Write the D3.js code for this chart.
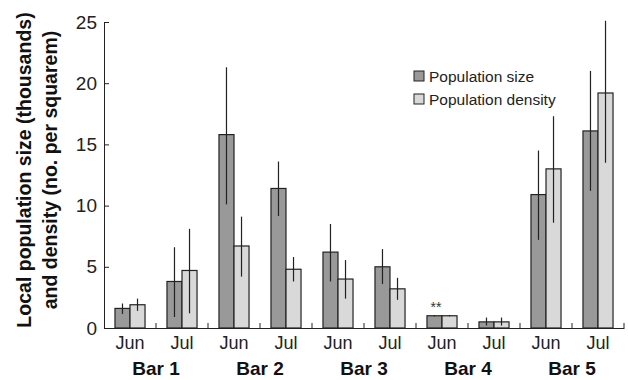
<!DOCTYPE html>
<html>
<head>
<meta charset="utf-8">
<script src="https://cdn.jsdelivr.net/npm/d3@7"></script>
<style>
  body { margin: 0; background: #fff; }
  svg { font-family: "Liberation Sans", Arial, Helvetica, sans-serif; }
</style>
</head>
<body>
<div id="chart"></div>
<script>
// groups and months along the x axis
const groups = ['Bar 1', 'Bar 2', 'Bar 3', 'Bar 4', 'Bar 5'];
const months = ['Jun', 'Jul'];

// one entry per group x month, in order
const sizeMean = [1.6, 3.8, 15.8, 11.4, 6.2, 5.0, 1.0, 0.5, 10.9, 16.1];
const sizeLow  = [1.15, 0.9, 10.1, 9.15, 3.8, 3.6, 0.95, 0.2, 7.2, 11.2];
const sizeHigh = [2.0, 6.6, 21.3, 13.6, 8.5, 6.45, 1.05, 0.85, 14.5, 21.0];

const densMean = [1.9, 4.7, 6.7, 4.8, 4.0, 3.2, 1.0, 0.5, 13.0, 19.2];
const densLow  = [1.4, 1.2, 4.2, 3.8, 2.4, 2.3, 0.95, 0.2, 8.6, 13.5];
const densHigh = [2.4, 8.1, 9.1, 5.8, 5.55, 4.1, 1.05, 0.85, 17.3, 25.1];

const yTicks = [0, 5, 10, 15, 20, 25];
const seriesNames = ['Population size', 'Population density'];
const annotations = [{ index: 6, text: '**' }];

const width = 628, height = 380;
const margin = { top: 22, right: 4, bottom: 52, left: 104 };
const colors = { 'Population size': '#999999', 'Population density': '#d9d9d9' };

const svg = d3.select('#chart').append('svg')
  .attr('width', width)
  .attr('height', height);

const slots = [];
groups.forEach(g => months.forEach(m => slots.push(g + '|' + m)));

const x0 = d3.scaleBand()
  .domain(slots)
  .range([margin.left, width - margin.right]);

const x1 = d3.scaleBand()
  .domain(seriesNames)
  .range([0, x0.bandwidth()])
  .paddingOuter(0.73)
  .paddingInner(0);

const y = d3.scaleLinear()
  .domain([0, 25])
  .range([height - margin.bottom, margin.top]);

const rows = slots.map((s, i) => ({
  slot: s,
  values: [
    { name: seriesNames[0], mean: sizeMean[i], lo: sizeLow[i], hi: sizeHigh[i] },
    { name: seriesNames[1], mean: densMean[i], lo: densLow[i], hi: densHigh[i] }
  ]
}));

// bars
const g = svg.append('g');
const slotG = g.selectAll('.slot')
  .data(rows)
  .enter().append('g')
  .attr('transform', d => `translate(${x0(d.slot)},0)`);

slotG.selectAll('rect')
  .data(d => d.values)
  .enter().append('rect')
  .attr('x', d => x1(d.name))
  .attr('y', d => y(d.mean))
  .attr('width', x1.bandwidth())
  .attr('height', d => y(0) - y(d.mean))
  .attr('fill', d => colors[d.name])
  .attr('stroke', '#222')
  .attr('stroke-width', 1.2);

// error bars
slotG.selectAll('line.err')
  .data(d => d.values)
  .enter().append('line')
  .attr('class', 'err')
  .attr('x1', d => x1(d.name) + x1.bandwidth() / 2)
  .attr('x2', d => x1(d.name) + x1.bandwidth() / 2)
  .attr('y1', d => y(d.lo))
  .attr('y2', d => y(d.hi))
  .attr('stroke', '#222')
  .attr('stroke-width', 1.2);

// y axis
const yAxis = d3.axisLeft(y).tickValues(yTicks).tickSizeInner(-5).tickSizeOuter(0).tickPadding(7);
const ya = svg.append('g')
  .attr('transform', `translate(${margin.left},0)`)
  .call(yAxis);
ya.selectAll('text').attr('font-size', 19).attr('fill', '#222').attr('font-family', null);
ya.select('.domain').attr('stroke', '#222');
ya.selectAll('.tick line').attr('stroke', '#222');

// x axis
const xAxis = d3.axisBottom(x0).tickSizeInner(0).tickSizeOuter(0).tickPadding(8)
  .tickFormat(d => d.split('|')[1]);
const xa = svg.append('g')
  .attr('transform', `translate(0,${y(0)})`)
  .call(xAxis);
xa.selectAll('text').attr('font-size', 18).attr('fill', '#222').attr('font-family', null);
xa.select('.domain').attr('stroke', '#222').attr('stroke-width', 1.2);

// inward separator ticks at band boundaries
xa.selectAll('line.sep')
  .data(slots.slice(1).concat(['end']))
  .enter().append('line')
  .attr('class', 'sep')
  .attr('x1', d => d === 'end' ? x0.range()[1] : x0(d))
  .attr('x2', d => d === 'end' ? x0.range()[1] : x0(d))
  .attr('y1', 0)
  .attr('y2', -5)
  .attr('stroke', '#222');

// group labels
svg.selectAll('.group-label')
  .data(groups)
  .enter().append('text')
  .attr('x', d => (x0(d + '|' + months[0]) + x0(d + '|' + months[1]) + x0.bandwidth()) / 2)
  .attr('y', height - 5)
  .attr('text-anchor', 'middle')
  .attr('font-size', 19)
  .attr('font-weight', 'bold')
  .attr('fill', '#111')
  .text(d => d);

// significance stars
svg.selectAll('.anno')
  .data(annotations)
  .enter().append('text')
  .attr('x', d => x0(slots[d.index]) + x1(seriesNames[0]) + x1.bandwidth() * 0.6)
  .attr('y', d => y(Math.max(sizeHigh[d.index], densHigh[d.index])) - 3)
  .attr('text-anchor', 'middle')
  .attr('font-size', 14)
  .attr('fill', '#333')
  .text(d => d.text);

// y label
const yl = svg.append('text')
  .attr('transform', `translate(0,${(y(0) + y(25)) / 2 - 5}) rotate(-90)`)
  .attr('text-anchor', 'middle')
  .attr('font-size', 19.5)
  .attr('font-weight', 'bold')
  .attr('fill', '#111');
yl.append('tspan').attr('x', 0).attr('y', 31).text('Local population size (thousands)');
yl.append('tspan').attr('x', 0).attr('y', 57).text('and density (no. per squarem)');

// legend
const legend = svg.append('g').attr('transform', `translate(414,71)`);
const li = legend.selectAll('g')
  .data(seriesNames)
  .enter().append('g')
  .attr('transform', (d, i) => `translate(0,${i * 23})`);
li.append('rect')
  .attr('width', 10)
  .attr('height', 10)
  .attr('fill', d => colors[d])
  .attr('stroke', '#222')
  .attr('stroke-width', 1);
li.append('text')
  .attr('x', 15)
  .attr('y', 10.5)
  .attr('font-size', 15.5)
  .attr('fill', '#222')
  .text(d => d);
</script>
</body>
</html>
